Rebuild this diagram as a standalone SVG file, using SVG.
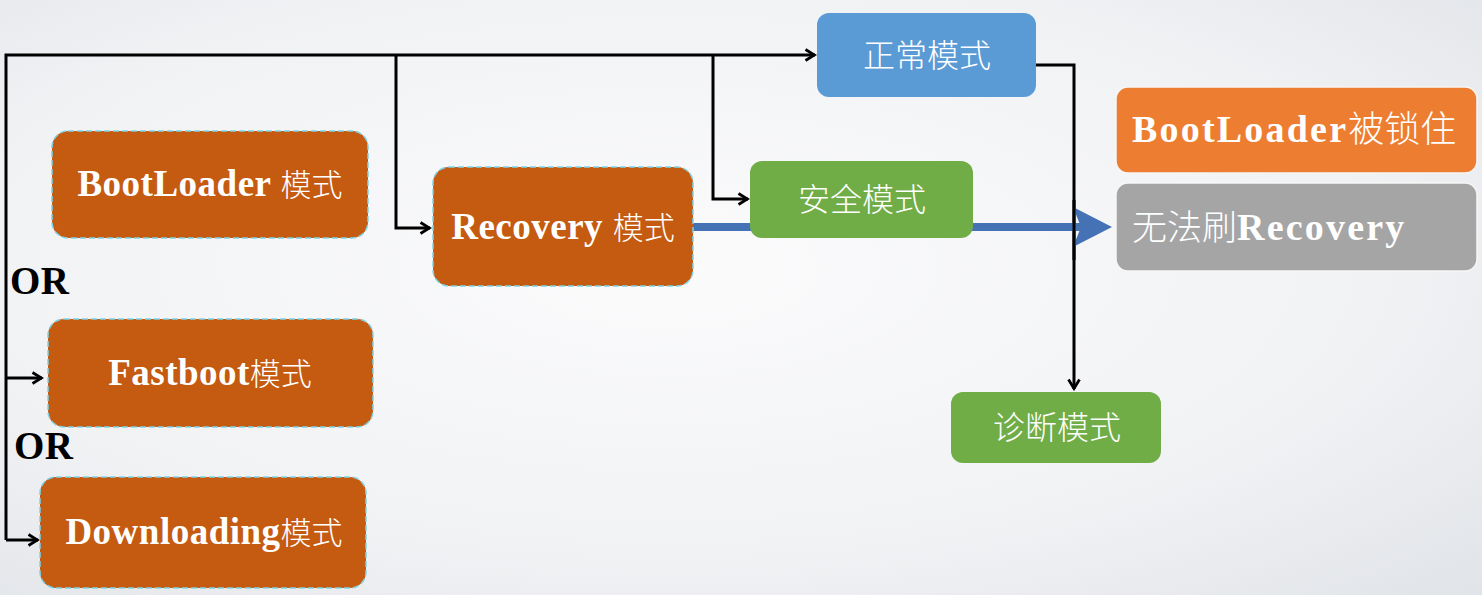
<svg xmlns="http://www.w3.org/2000/svg" width="1482" height="595" viewBox="0 0 1482 595">
<defs>
<radialGradient id="bg" cx="0.45" cy="0.45" r="0.8">
<stop offset="0" stop-color="#fbfbfc"/>
<stop offset="0.6" stop-color="#f1f2f4"/>
<stop offset="1" stop-color="#dfe2e7"/>
</radialGradient>
<marker id="ah" viewBox="0 0 14 14" refX="12.5" refY="7" markerWidth="14" markerHeight="14" markerUnits="userSpaceOnUse" orient="auto">
<path d="M3,1.5 L12,7 L3,12.5" fill="none" stroke="#000" stroke-width="2.8"/>
</marker>
<style>
.ln{fill:none;stroke:#000;stroke-width:3}
.brn{fill:#C55A11;stroke:#7fd3e6;stroke-width:1.5;stroke-dasharray:6 3}
.en{font-family:"Liberation Serif",serif;font-weight:900;fill:#fff;font-size:37px;letter-spacing:0.5px}
.enr{font-family:"Liberation Serif",serif;font-weight:900;fill:#fff;font-size:38px;letter-spacing:2.2px}
.cn{font-family:"Noto Sans CJK SC",sans-serif;font-weight:300;fill:#fff}
.lbl{font-family:"Liberation Serif",serif;font-weight:900;fill:#000;font-size:39px;letter-spacing:0.5px}
</style>
</defs>
<rect width="1482" height="595" fill="url(#bg)"/>
<g id="connectors">
<path class="ln" d="M6,540 L6,55 L815,55" marker-end="url(#ah)"/>
<path class="ln" d="M6,378 L42,378" marker-end="url(#ah)"/>
<path class="ln" d="M6,540 L38,540" marker-end="url(#ah)"/>
<path class="ln" d="M396,55 L396,228 L430,228" marker-end="url(#ah)"/>
<path class="ln" d="M713,55 L713,199 L748,199" marker-end="url(#ah)"/>
<path class="ln" d="M1036,65 L1074,65 L1074,389" marker-end="url(#ah)"/>
<path d="M693,227 L1085,227" fill="none" stroke="#4472B4" stroke-width="8"/>
<path d="M1073,207 L1112,227 L1073,247 L1081,227 Z" fill="#4472B4"/>
<path d="M1074,200 L1074,260" stroke="#000" stroke-width="3"/>
</g>
<g id="n-bootloader"><rect class="brn" x="52" y="131" width="316" height="107" rx="16"/><text x="210" y="196" text-anchor="middle" font-size="31"><tspan class="en">BootLoader </tspan><tspan class="cn">模式</tspan></text></g>
<g id="n-fastboot"><rect class="brn" x="48" y="319" width="325" height="108" rx="16"/><text x="210" y="385" text-anchor="middle" font-size="31"><tspan class="en">Fastboot</tspan><tspan class="cn">模式</tspan></text></g>
<g id="n-downloading"><rect class="brn" x="40" y="477" width="326" height="111" rx="16"/><text x="204" y="544" text-anchor="middle" font-size="31"><tspan class="en">Downloading</tspan><tspan class="cn">模式</tspan></text></g>
<g id="n-recovery"><rect class="brn" x="433" y="167" width="260" height="119" rx="16"/><text x="563" y="239" text-anchor="middle" font-size="31"><tspan class="en">Recovery </tspan><tspan class="cn">模式</tspan></text></g>
<g id="n-normal"><rect x="817" y="13" width="219" height="84" rx="12" fill="#5B9BD5"/><text x="927" y="67" text-anchor="middle" font-size="32" class="cn">正常模式</text></g>
<g id="n-safe"><rect x="750" y="161" width="223" height="77" rx="12" fill="#70AD47"/><text x="862" y="211" text-anchor="middle" font-size="32" class="cn">安全模式</text></g>
<g id="n-diag"><rect x="951" y="392" width="210" height="71" rx="12" fill="#70AD47"/><text x="1057" y="439" text-anchor="middle" font-size="32" class="cn">诊断模式</text></g>
<g id="n-locked"><rect x="1116" y="87" width="361" height="86" rx="12" fill="#ED7D31" stroke="#f6f6f6" stroke-width="1.5"/><text x="1132" y="142" font-size="36"><tspan class="enr">BootLoader</tspan><tspan class="cn">被锁住</tspan></text></g>
<g id="n-norec"><rect x="1116" y="183" width="361" height="88" rx="12" fill="#A5A5A5" stroke="#f6f6f6" stroke-width="1.5"/><text x="1132" y="240" font-size="35"><tspan class="cn">无法刷</tspan><tspan class="enr">Recovery</tspan></text></g>
<g id="labels">
<text x="10" y="294" class="lbl">OR</text>
<text x="14" y="459" class="lbl">OR</text>
</g>
</svg>
